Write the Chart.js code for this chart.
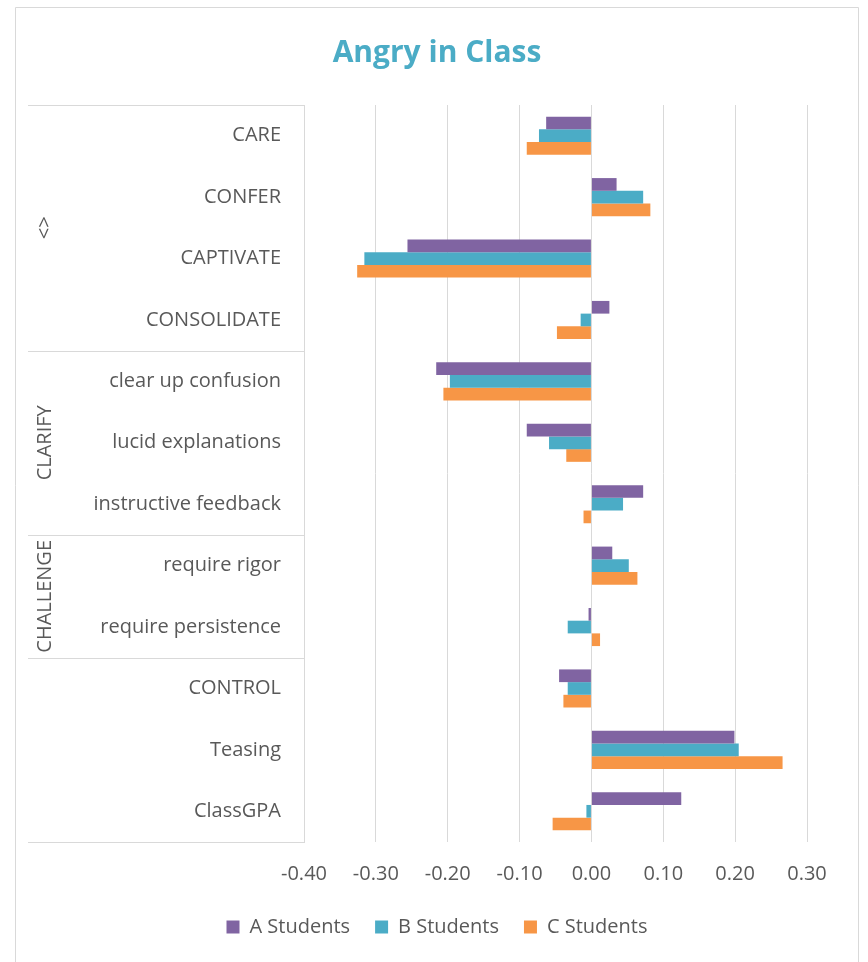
<!DOCTYPE html>
<html>
<head>
<meta charset="utf-8">
<script src="https://cdn.jsdelivr.net/npm/chart.js@4"></script>
<style>
  body { margin: 0; background: #fff; }
  #wrap { width: 868px; height: 962px; position: relative; }
</style>
</head>
<body>
<div id="wrap"><canvas id="angry-chart"></canvas></div>
<script>
// data
const categories = ['CARE', 'CONFER', 'CAPTIVATE', 'CONSOLIDATE',
    'clear up confusion', 'lucid explanations', 'instructive feedback',
    'require rigor', 'require persistence',
    'CONTROL', 'Teasing', 'ClassGPA'];
const groupLabels = ['<>', 'CLARIFY', 'CHALLENGE', ''];
const groupSizes = [4, 3, 2, 3];
const aStudents = [-0.063, 0.035, -0.256, 0.025, -0.216, -0.090, 0.072, 0.029, -0.004, -0.045, 0.199, 0.125];
const bStudents = [-0.073, 0.072, -0.316, -0.015, -0.197, -0.059, 0.044, 0.052, -0.033, -0.033, 0.205, -0.007];
const cStudents = [-0.090, 0.082, -0.326, -0.048, -0.206, -0.035, -0.011, 0.064, 0.012, -0.039, 0.266, -0.054];
const xTicks = [-0.4, -0.3, -0.2, -0.1, 0, 0.1, 0.2, 0.3];

const gray = '#595959';
const lineGray = '#d9d9d9';
const font = '"Open Sans", Lato, sans-serif';

//outer frame + group column
const framePlugin = {
    id: 'frame',
    beforeDraw(chart) {
        const ctx = chart.ctx;
        ctx.save();
        ctx.strokeStyle = lineGray;
        ctx.lineWidth = 1;
        ctx.beginPath();
        ctx.moveTo(15.5, chart.height + 5);
        ctx.lineTo(15.5, 7.5);
        ctx.lineTo(858.5, 7.5);
        ctx.lineTo(858.5, chart.height + 5);
        ctx.stroke();
        ctx.restore();
    },
    afterDraw(chart) {
        const ctx = chart.ctx;
        const y = chart.scales.y;
        const area = chart.chartArea;
        const left = y.left + 8;
        const right = area.left;
        ctx.save();
        ctx.strokeStyle = lineGray;
        ctx.lineWidth = 1;

        let idx = 0;
        let top = area.top;
        for (let g = 0; g < groupSizes.length; g++) {
            idx += groupSizes[g];
            let bottom;
            if (idx >= categories.length) {
                bottom = area.bottom;
            } else {
                bottom = (y.getPixelForValue(idx - 1) + y.getPixelForValue(idx)) / 2;
            }
            ctx.beginPath();
            ctx.moveTo(left, Math.round(top) + 0.5);
            ctx.lineTo(right, Math.round(top) + 0.5);
            ctx.stroke();

            if (groupLabels[g] !== '') {
                ctx.save();
                ctx.translate(left + 17, (top + bottom) / 2);
                ctx.rotate(-Math.PI / 2);
                ctx.fillStyle = gray;
                ctx.font = '20px ' + font;
                ctx.textAlign = 'center';
                ctx.textBaseline = 'middle';
                ctx.fillText(groupLabels[g], 0, 0);
                ctx.restore();
            }
            top = bottom;
        }
        ctx.beginPath();
        ctx.moveTo(left, Math.round(area.bottom) + 0.5);
        ctx.lineTo(right, Math.round(area.bottom) + 0.5);
        ctx.stroke();
        ctx.restore();
    }
};

const angryCanvas = document.getElementById('angry-chart');

let angryChart = new Chart(angryCanvas, {
    type: 'bar',
    data: {
        labels: categories,
        datasets: [{
            label: 'A Students',
            data: aStudents,
            backgroundColor: '#8064A2',
        }, {
            label: 'B Students',
            data: bStudents,
            backgroundColor: '#4BACC6',
        }, {
            label: 'C Students',
            data: cStudents,
            backgroundColor: '#F79646',
        }]
    },
    options: {
        indexAxis: 'y',
        responsive: true,
        maintainAspectRatio: false,
        animation: false,
        categoryPercentage: 0.62,
        barPercentage: 1,
        layout: {
            padding: { top: 0, left: 20, right: 14, bottom: 15 }
        },
        scales: {
            x: {
                min: -0.4,
                max: 0.3,
                afterBuildTicks: scale => {
                    scale.ticks = xTicks.map(v => ({ value: v }));
                },
                afterFit: scale => { scale.height = 50; },
                grid: { color: lineGray, drawTicks: false },
                border: { display: false },
                ticks: {
                    color: gray,
                    padding: 20,
                    font: { family: font, size: 20 },
                    callback: v => v.toFixed(2),
                },
            },
            y: {
                afterFit: scale => { scale.width = 284; },
                grid: { display: false, drawTicks: false },
                border: { display: true, color: lineGray },
                ticks: {
                    color: gray,
                    padding: 23,
                    autoSkip: false,
                    font: { family: font, size: 20 },
                },
            },
            yPad: {
                type: 'linear',
                position: 'right',
                grid: { display: false, drawTicks: false },
                border: { display: false },
                ticks: { display: false },
                afterFit: scale => { scale.width = 47; },
            }
        },
        plugins: {
            title: {
                display: true,
                text: 'Angry in Class',
                color: '#4BACC6',
                font: { family: font, size: 30, weight: 'bold' },
                padding: { top: 35, bottom: 34 },
            },
            legend: {
                position: 'bottom',
                labels: {
                    color: gray,
                    boxWidth: 13,
                    boxHeight: 13,
                    padding: 25,
                    font: { family: font, size: 20 },
                }
            },
            tooltip: { enabled: false },
        }
    },
    plugins: [framePlugin]
});
</script>
</body>
</html>
